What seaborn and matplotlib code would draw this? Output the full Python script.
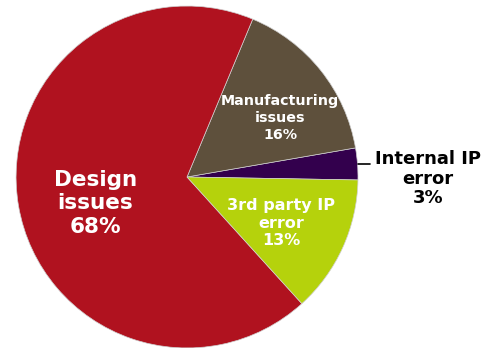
import matplotlib
matplotlib.use("Agg")
import matplotlib.pyplot as plt
import seaborn as sns

# Root causes of silicon re-spins
categories = ["Internal IP\nerror", "Manufacturing\nissues", "Design\nissues", "3rd party IP\nerror"]
shares = [3, 16, 68, 13]
colors = ["#33004D", "#5E503C", "#B0121F", "#B5D20C"]

sns.set_theme(style="white")
plt.rcParams["font.family"] = ["DejaVu Sans"]

fig = plt.figure(figsize=(4.98, 3.48), dpi=100)
ax = fig.add_axes([0, 0, 1, 1])

wedges, _ = ax.pie(
    shares, colors=colors, startangle=-1.0, counterclock=True,
    wedgeprops=dict(edgecolor="#cfcfcf", linewidth=0.5),
)

# label placement and style per slice
label_pos = [(1.41, -0.01), (0.545, 0.345), (-0.535, -0.155), (0.55, -0.27)]
label_size = [13, 10.3, 15.5, 11.5]
label_color = ["black", "white", "white", "white"]
spacing = [1.12, 1.26, 1.23, 1.2]

for name, val, (x, y), fs, c, ls in zip(categories, shares, label_pos, label_size, label_color, spacing):
    ax.text(x, y, f"{name}\n{val}%", ha="center", va="center", fontsize=fs,
            fontweight="bold", color=c, linespacing=ls)

# leader from the small slice to its label
ax.plot([1.003, 1.07], [0.075, 0.075], color="black", lw=1.2)

ax.set_xlim(-1.094, 1.819)
ax.set_ylim(-1.0, 1.035)
ax.set_aspect("equal")
ax.axis("off")

fig.savefig("out.png", dpi=100, facecolor="white")
